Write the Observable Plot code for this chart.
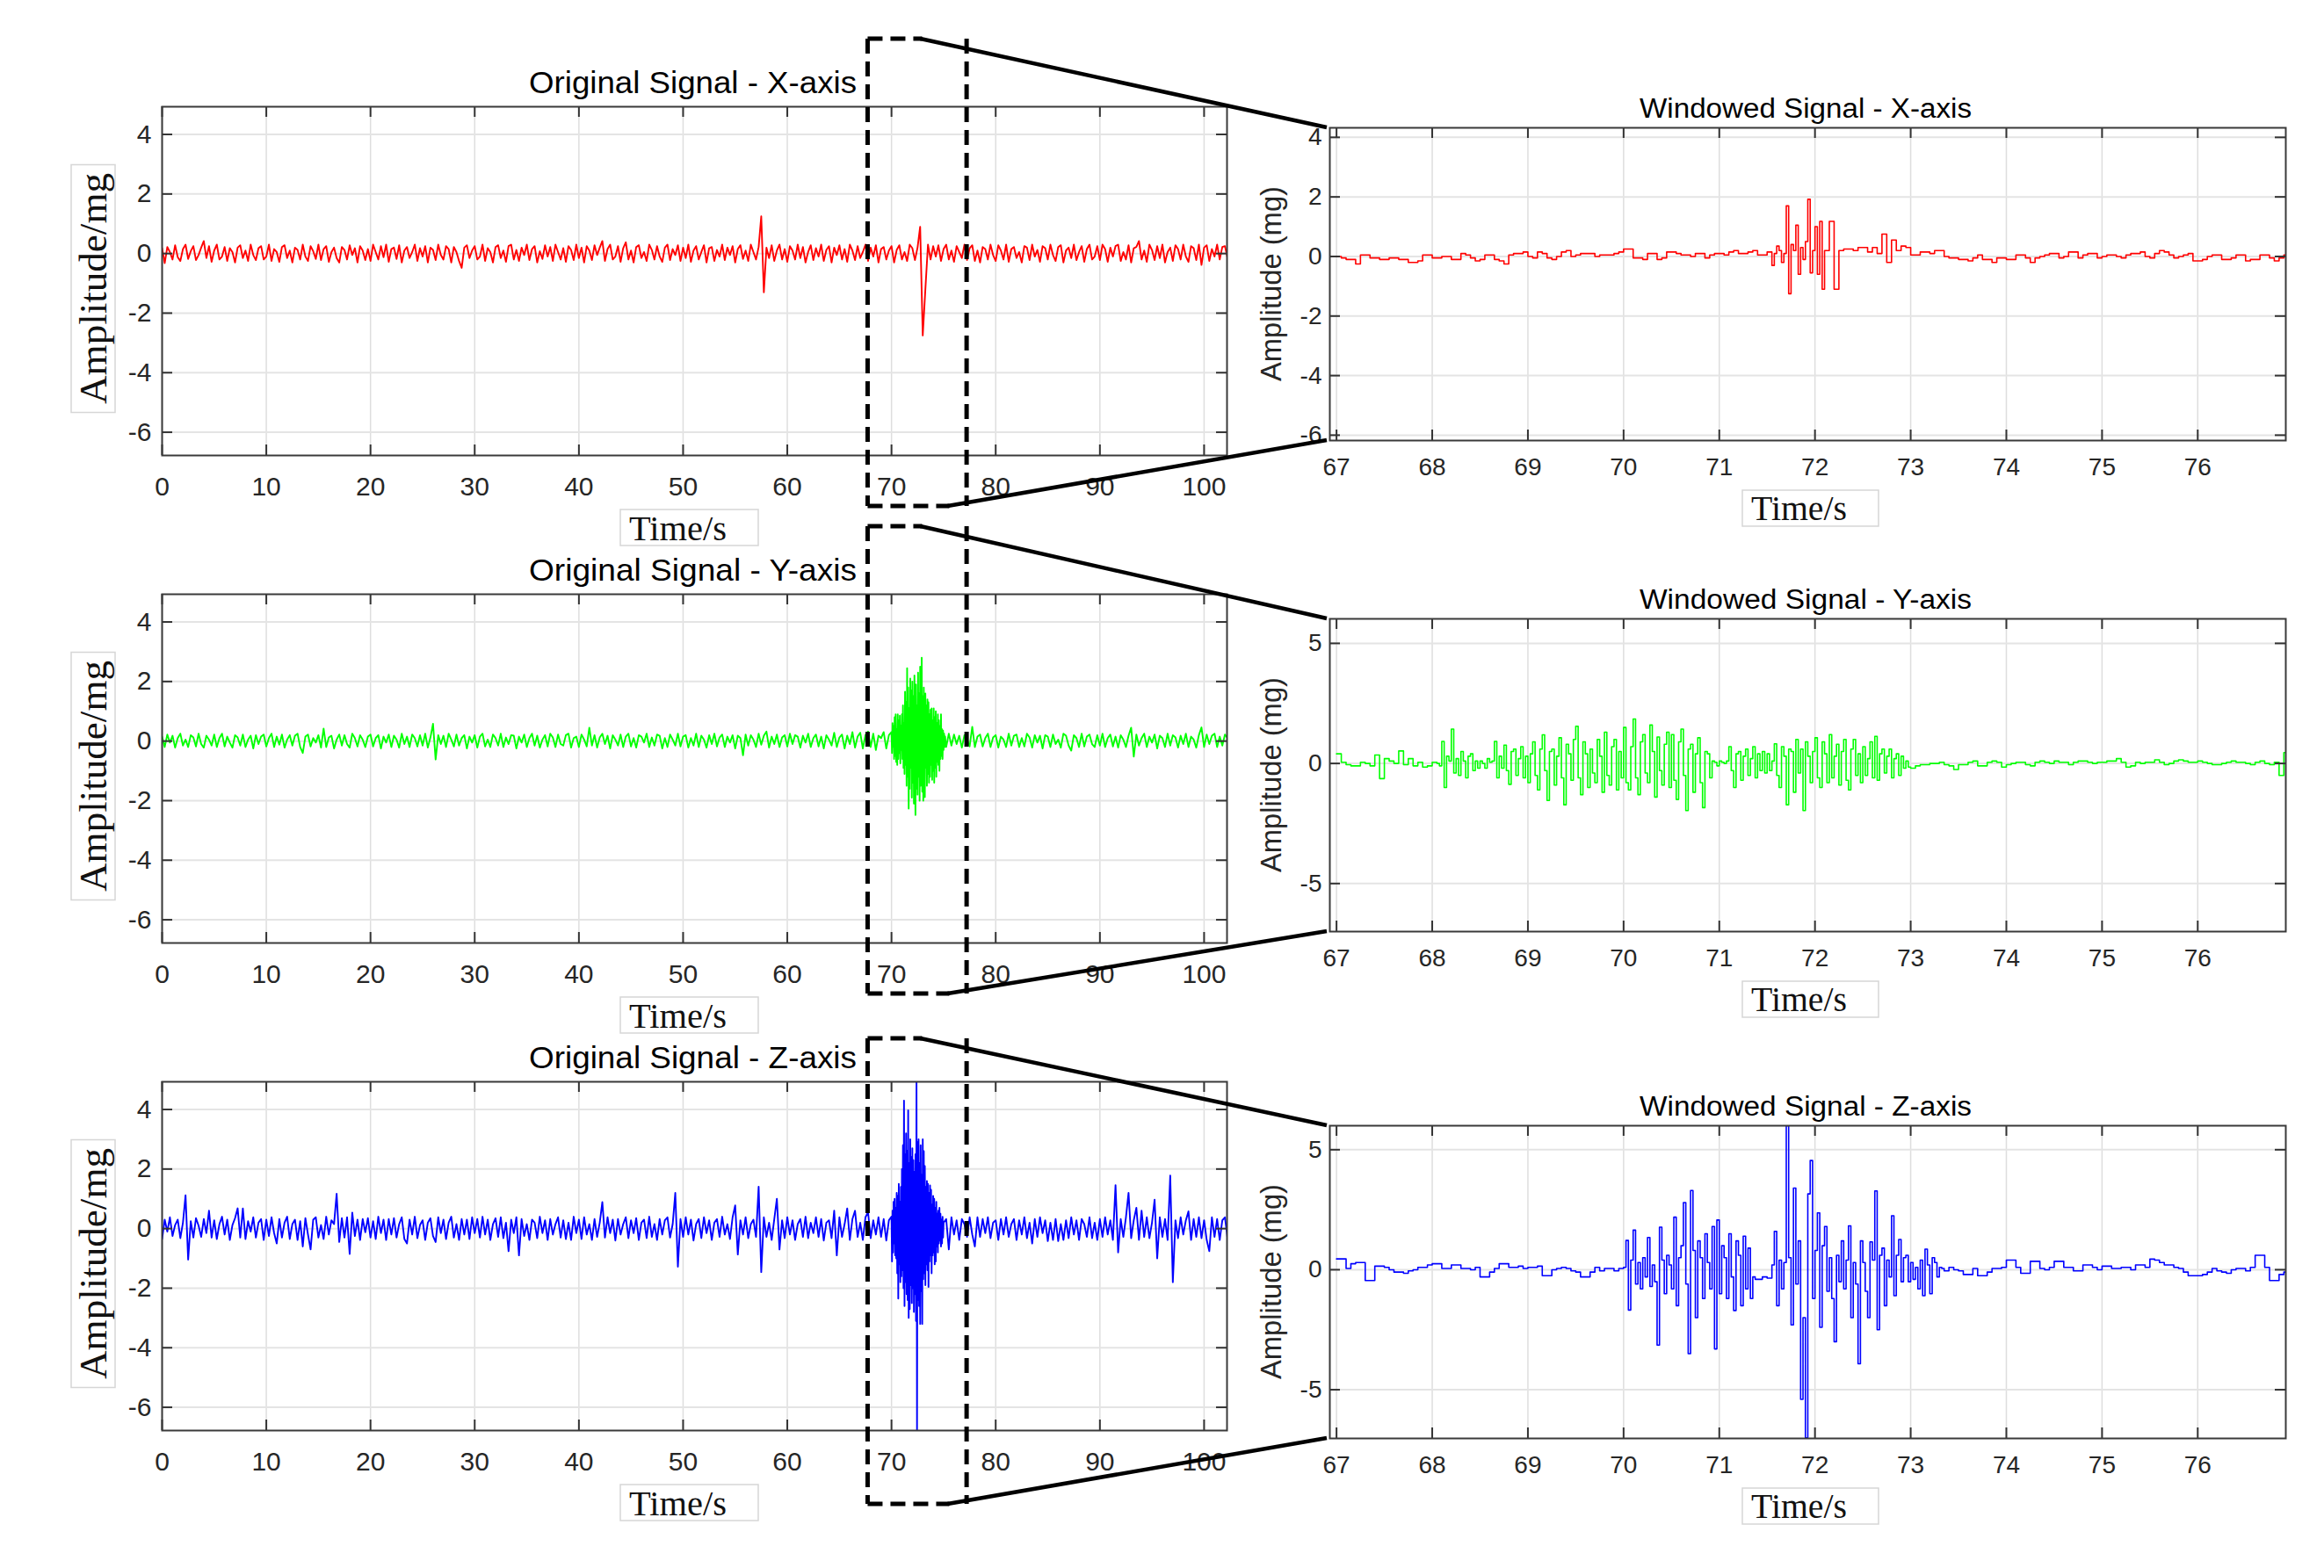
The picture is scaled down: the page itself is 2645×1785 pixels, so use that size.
<!DOCTYPE html>
<html><head><meta charset="utf-8">
<script src="https://cdn.jsdelivr.net/npm/d3@7"></script>
<script src="https://cdn.jsdelivr.net/npm/@observablehq/plot@0.6"></script>
<style>
html,body{margin:0;padding:0;background:#fff;}
#fig{position:relative;width:2645px;height:1785px;background:#fff;overflow:hidden;}
#fig .panel{position:absolute;}
</style></head><body><div id="fig"></div>
<script>
// ---------------- DATA ----------------
// Original signals: amplitude (mg) sampled every 0.25 s from 0 s
const originalStep = 0.25;
const xOriginal = [
0.18,-0.32,0.22,0.05,-0.2,0.28,-0.12,-0.25,0.15,0.3,-0.18,0.08,0.25,-0.22,-0.05,0.2,0.42,-0.15,0.25,-0.28,0.1,0.3,-0.2,-0.1,0.22,-0.25,0.18,0.05,-0.3,0.2,0.28,-0.15,0.1,-0.25,0.3,-0.05,-0.22,0.18,0.25,-0.2,
-0.1,0.3,-0.25,0.15,0.05,-0.28,0.22,0.28,-0.15,0.1,-0.3,0.2,0.12,-0.2,0.3,-0.1,-0.25,0.25,0.08,-0.18,0.3,-0.22,0.15,0.25,-0.28,0.05,0.2,-0.15,-0.3,0.22,0.12,-0.2,0.28,-0.05,0.18,-0.3,0.25,0.1,-0.22,0.15,
-0.25,0.3,0.05,-0.2,0.25,-0.12,0.3,-0.28,0.15,0.2,-0.18,0.28,-0.3,0.1,0.22,-0.15,0.05,0.3,-0.25,0.18,-0.1,0.25,-0.3,0.2,0.12,-0.22,0.3,-0.05,-0.2,0.25,0.15,-0.3,0.22,0.05,-0.25,-0.48,0.2,0.28,-0.15,0.1,
0.25,-0.2,-0.1,0.3,-0.25,0.18,0.05,-0.3,0.22,0.28,-0.15,0.1,-0.28,0.25,0.3,-0.2,0.12,-0.25,0.2,-0.05,0.3,-0.22,0.15,0.25,-0.3,0.08,-0.18,0.28,-0.1,0.22,-0.25,0.3,0.05,-0.2,0.18,-0.28,0.25,0.12,-0.22,0.3,
-0.15,0.2,-0.3,0.25,0.1,-0.22,0.28,-0.05,0.2,0.42,-0.25,0.15,0.3,-0.2,-0.1,0.25,-0.28,0.18,0.38,-0.2,0.1,-0.3,0.22,0.28,-0.15,0.05,-0.25,0.3,0.12,-0.2,0.25,-0.1,-0.28,0.2,0.3,-0.22,0.15,-0.05,0.28,-0.25,
0.2,-0.15,0.3,-0.28,0.1,0.25,-0.2,0.05,0.28,-0.3,0.18,0.22,-0.25,0.12,-0.1,0.3,-0.22,0.2,-0.05,0.25,-0.3,0.15,0.28,-0.18,0.1,-0.25,0.3,0.05,-0.2,0.22,1.25,-1.3,0.2,-0.15,0.28,-0.25,0.1,0.3,-0.2,0.15,
-0.28,0.25,0.1,-0.2,0.3,-0.15,0.22,-0.3,0.05,0.28,-0.22,0.18,-0.1,0.3,-0.25,0.12,0.25,-0.3,0.2,-0.05,0.28,-0.2,0.15,-0.28,0.3,0.1,-0.22,0.25,-0.15,0.05,0.3,-0.25,0.2,-0.1,0.28,-0.3,0.15,0.22,-0.2,0.1,
0.25,-0.3,0.12,0.28,-0.2,0.05,-0.25,0.3,0.18,-0.22,0.2,0.9,-2.75,-1.2,0.3,-0.2,0.25,-0.1,0.28,-0.25,0.15,0.3,-0.2,0.1,-0.28,0.25,0.05,-0.15,0.3,-0.22,0.18,0.28,-0.25,0.1,-0.3,0.22,0.15,-0.2,0.3,-0.05,
-0.25,0.28,0.1,-0.2,0.3,-0.28,0.15,0.22,-0.15,0.05,-0.3,0.25,0.2,-0.22,0.3,-0.1,0.12,-0.28,0.25,0.18,-0.2,0.3,-0.05,-0.25,0.22,0.28,-0.3,0.1,0.2,-0.15,0.3,-0.22,0.05,0.25,-0.28,0.15,0.3,-0.2,-0.1,0.25,
-0.22,0.3,0.15,-0.28,0.2,-0.1,0.25,0.3,-0.25,0.05,-0.2,0.28,-0.3,0.18,0.22,0.42,-0.2,0.1,-0.28,0.3,0.12,-0.22,0.25,-0.15,0.3,-0.3,0.05,0.2,-0.25,0.28,0.15,-0.2,0.3,-0.1,-0.28,0.25,0.18,-0.22,0.3,-0.38,
0.2,0.28,-0.25,0.15,-0.1,0.3,-0.2,0.22,0.25,-0.15];
const yOriginal = [
0.15,-0.2,0.22,-0.05,0.18,-0.22,0.1,0.25,-0.15,0.05,-0.2,0.2,0.12,-0.18,0.25,-0.1,-0.22,0.18,0.05,-0.15,0.22,-0.2,0.1,0.25,-0.18,0.15,-0.05,-0.22,0.2,0.12,-0.15,0.22,-0.2,0.05,0.18,-0.25,0.2,-0.1,0.15,0.22,
-0.18,0.1,0.25,-0.2,0.15,-0.12,0.22,-0.22,0.05,0.2,-0.15,0.18,0.25,-0.2,-0.4,0.15,0.22,-0.18,0.1,-0.05,0.2,-0.22,0.42,-0.2,0.12,0.18,-0.25,0.05,0.22,-0.15,0.2,-0.1,-0.22,0.25,0.1,-0.18,0.2,0.05,-0.2,0.15,
0.22,-0.18,0.1,0.2,-0.25,0.15,-0.05,0.22,-0.2,0.18,0.05,-0.22,0.25,-0.1,0.15,-0.2,0.22,0.1,-0.18,0.2,-0.15,0.25,-0.22,0.12,0.58,-0.62,0.2,-0.1,0.18,-0.2,0.25,0.05,-0.18,0.22,-0.15,0.1,0.2,-0.25,0.15,-0.05,
0.2,-0.22,0.15,0.25,-0.18,0.05,-0.2,0.22,0.1,-0.15,0.25,-0.2,0.12,-0.1,0.2,0.18,-0.25,0.15,-0.05,0.22,-0.2,0.1,0.25,-0.15,0.18,-0.22,0.05,0.2,-0.18,0.25,0.12,-0.2,0.22,-0.1,-0.15,0.2,0.25,-0.22,0.1,0.15,
-0.2,0.22,0.05,-0.18,0.45,-0.15,0.2,-0.22,0.12,0.25,-0.1,0.18,-0.25,0.2,0.05,-0.15,0.22,-0.2,0.15,0.25,-0.18,0.1,-0.22,0.2,0.15,-0.05,0.25,-0.2,0.12,-0.15,0.22,0.18,-0.25,0.1,-0.2,0.22,0.05,-0.15,0.25,-0.18,
0.15,0.2,-0.22,0.1,-0.15,0.25,-0.2,0.18,0.05,-0.22,0.2,-0.1,0.25,-0.18,0.12,0.22,-0.2,0.15,-0.05,0.2,-0.25,0.18,0.1,-0.48,0.22,-0.15,0.2,0.05,-0.2,0.25,-0.12,0.18,0.32,-0.22,0.15,-0.1,0.22,-0.2,0.12,0.2,
-0.18,0.25,-0.1,0.2,0.15,-0.22,0.18,-0.05,0.25,-0.2,0.1,0.22,-0.18,0.15,-0.25,0.2,0.05,-0.15,0.28,-0.2,0.12,0.22,-0.25,0.18,-0.1,0.3,-0.22,0.15,0.28,-0.25,0.2,0.32,-0.2,0.25,-0.3,0.18,0.1,0.3,-0.25,0.2,
0.1,-0.1,0.15,-0.12,0.2,-0.15,0.1,-0.1,0.2,-0.2,0.15,-0.15,0.2,-0.1,0.15,-0.12,0.1,-0.1,0.15,-0.12,0.1,-0.2,0.25,-0.15,0.22,-0.1,0.18,-0.22,0.2,0.05,-0.18,0.48,-0.2,0.15,0.22,-0.18,0.1,0.25,-0.2,0.12,
0.2,-0.22,0.15,0.05,-0.2,0.25,-0.15,0.18,0.22,-0.2,0.1,-0.18,0.25,0.12,-0.22,0.2,-0.05,0.18,-0.25,0.2,0.15,-0.2,0.22,-0.1,0.05,-0.22,0.25,0.18,-0.15,-0.32,0.2,0.1,-0.2,0.25,-0.18,0.15,0.22,-0.1,-0.2,0.2,
-0.15,0.25,-0.2,0.1,0.22,-0.18,0.15,-0.22,0.2,0.05,-0.2,0.18,0.45,-0.52,0.22,-0.15,0.1,0.25,-0.2,0.15,-0.05,0.22,-0.25,0.18,0.1,-0.2,0.25,-0.15,0.2,0.12,-0.22,0.18,-0.1,0.25,-0.2,0.15,0.05,-0.22,0.2,0.46,
-0.2,0.22,-0.1,0.18,0.25,-0.2,0.15,-0.15,0.22,0.1];
// Y-axis event (70.00 s .. 75.20 s, every 0.05 s)
const yBurstStart = 70.0, burstStep = 0.05;
const yOriginalBurst = [
0.3,-0.4,0.6,-0.2,0.5,-0.6,0.8,-0.5,0.9,-0.7,
0.4,-0.8,0.9,-0.6,0.7,-0.4,0.85,-0.75,0.5,-0.3,
0.9,-0.6,1.2,-0.9,0.6,-1.1,1.66,-0.8,1.3,-1.5,
2.45,-1.2,1.8,-2.27,1.1,-1.6,2.1,-0.9,1.7,-1.9,
2.0,-1.4,1.5,-2.1,2.2,-1.0,-2.48,1.9,-1.6,1.2,
-1.8,2.3,-1.2,1.6,-2.0,2.5,-1.5,1.1,2.8,-1.7,
1.5,-2.0,1.8,-1.3,-1.88,1.6,-0.9,1.2,-1.5,1.4,
-1.1,1.3,-1.4,0.9,-1.2,1.05,-0.8,1.1,-1.3,0.7,
-1.0,1.1,-1.4,0.8,-0.9,1.0,-1.2,0.6,-0.7,0.9,
-0.8,0.7,-1.0,0.5,-0.6,0.9,-0.5,0.4,-0.6,0.35,
-0.3,0.25,-0.2,0.15,-0.1];
const zOriginal = [
-0.35,0.3,-0.1,0.38,-0.25,0.12,0.3,-0.32,0.2,1.12,-1.04,0.25,-0.3,0.35,0.1,-0.28,0.32,-0.15,0.6,-0.3,0.28,-0.35,0.15,0.4,-0.2,0.3,-0.38,0.12,0.35,0.68,-0.3,0.68,-0.35,0.25,-0.1,0.38,-0.3,0.2,0.32,-0.38,
0.3,-0.25,0.38,-0.15,-0.5,0.32,-0.3,0.2,0.4,-0.35,0.15,0.3,-0.38,0.25,-0.6,0.35,-0.2,-0.7,0.3,0.38,-0.3,0.12,-0.35,0.4,-0.2,0.28,0.15,1.17,-0.45,0.35,-0.3,0.38,-0.85,0.54,-0.25,0.3,-0.38,0.32,-0.12,0.35,
-0.3,0.25,-0.35,0.4,-0.15,0.3,-0.38,0.32,-0.2,0.35,-0.3,0.15,0.38,-0.35,-0.5,0.3,-0.2,0.4,-0.32,0.12,0.28,-0.38,0.2,0.35,-0.25,-0.45,0.38,-0.15,0.3,-0.35,0.2,0.4,-0.3,0.15,-0.38,0.32,-0.2,0.3,-0.35,0.38,
-0.15,0.32,-0.3,0.4,-0.2,0.3,-0.38,0.15,0.35,-0.28,0.38,-0.32,0.2,-0.76,0.3,-0.15,0.38,-0.9,0.32,-0.25,0.15,-0.38,0.3,0.2,-0.32,0.4,-0.15,0.28,-0.38,0.32,-0.2,0.15,0.38,-0.3,0.28,-0.35,0.2,-0.38,0.4,-0.15,
0.3,-0.35,0.38,-0.2,0.15,-0.38,0.32,-0.28,0.2,0.89,-0.3,0.38,-0.15,0.3,-0.4,0.32,-0.2,0.15,0.38,-0.32,0.28,-0.15,0.35,-0.38,0.2,0.3,-0.32,0.4,-0.28,0.15,-0.38,0.32,-0.2,0.28,0.38,-0.3,0.15,1.2,-1.28,0.32,
-0.28,0.38,-0.2,0.3,-0.4,0.15,0.32,-0.32,0.38,-0.15,0.28,-0.38,0.2,0.32,-0.28,0.4,-0.2,0.15,-0.35,0.38,0.78,-0.87,0.28,-0.2,0.38,-0.32,0.15,0.3,-0.28,1.41,-1.46,0.38,-0.28,0.2,-0.38,0.32,1.0,-0.7,0.28,-0.32,
0.38,-0.2,0.28,-0.38,0.15,0.32,-0.28,0.4,-0.32,0.2,-0.15,0.38,-0.28,0.32,-0.4,0.2,0.28,-0.32,0.6,-0.9,0.38,-0.28,0.15,0.68,-0.38,0.32,0.6,-0.28,0.2,-0.38,0.38,0.55,-0.32,0.28,-0.2,0.38,-0.28,0.32,-0.4,0.28,
-1.2,0.3,-0.3,0.25,-0.2,0.3,-0.25,0.2,-0.3,0.25,-0.2,0.3,-0.25,0.2,-0.3,0.25,-0.2,0.3,-0.25,0.2,-0.3,0.32,-0.7,0.38,-0.2,0.28,-0.38,0.32,0.15,-0.28,0.38,-0.2,-0.6,0.38,-0.28,0.32,-0.15,0.38,-0.32,0.2,
0.28,-0.38,0.32,-0.2,0.38,-0.28,0.15,0.32,-0.38,0.28,-0.2,0.38,-0.32,0.2,-0.5,0.32,-0.28,0.38,-0.15,0.28,-0.42,0.2,-0.38,0.32,-0.42,0.15,-0.38,0.28,-0.32,0.38,-0.2,0.28,-0.38,0.32,0.15,-0.28,0.38,-0.32,0.2,-0.38,
0.32,-0.28,0.38,-0.2,0.28,-0.38,1.46,-0.8,0.32,-0.28,0.38,1.2,-0.32,0.28,0.7,-0.38,0.6,-0.28,0.38,-0.32,0.2,0.97,-1.0,0.38,-0.28,0.32,-0.38,1.78,-1.8,0.28,-0.32,0.38,-0.2,0.28,0.58,-0.38,0.32,-0.28,0.38,-0.32,
0.28,-0.38,-0.76,0.38,-0.28,0.32,-0.38,0.28,0.38,-0.32];
// Z-axis event (70.00 s .. 75.00 s, every 0.05 s)
const zBurstStart = 70.0;
const zOriginalBurst = [
0.4,-1.1,0.6,-0.8,0.9,-0.5,1.0,-0.9,0.7,-1.0,
1.2,-1.5,1.1,-2.35,1.5,-1.2,0.9,-1.8,1.4,-1.6,
2.0,-1.4,2.8,-2.0,4.3,-2.6,2.5,-1.8,3.2,-2.2,
2.6,-2.4,3.97,-3.0,2.2,-2.7,3.0,-1.9,2.4,-2.5,
2.7,-2.0,2.3,-2.8,1.9,-2.2,2.5,-3.1,4.94,-6.77,
2.9,-2.4,3.0,-2.6,2.2,-3.2,2.8,-2.1,1.8,-3.2,
3.0,-1.7,2.6,-1.5,2.1,-1.9,1.4,-1.2,1.6,-1.4,
1.5,-1.96,1.2,-1.1,1.45,-0.9,1.3,-1.5,0.8,-0.9,
1.1,-0.8,1.0,-1.2,0.7,-1.1,0.9,-0.6,0.5,-0.8,
0.6,-0.5,0.7,-0.4,0.5,-0.6,0.3,-0.5,0.4,-0.3,
0.2];
// Windowed signals: sample-and-hold values every 0.05 s from 67.00 s
const windowStart = 67.0, windowStep = 0.05;
const xWindowed = [
0,-0.05,-0.1,-0.1,-0.25,0.05,0.05,-0.05,-0.05,-0.1,
-0.1,-0.05,-0.05,-0.1,-0.1,-0.2,-0.2,-0.15,0.05,0.05,
-0.05,-0.05,0,0,-0.1,-0.1,0.1,0.05,-0.05,-0.15,
-0.1,0.05,0.05,-0.1,-0.15,-0.25,0.05,0.1,0.1,0.15,
0,-0.05,0.15,0.1,-0.05,-0.1,0,0.15,0.2,0,
0.05,0.1,0.1,0.1,0,0.05,0.05,0.05,0.1,0.15,
0.25,0.25,-0.05,-0.05,-0.1,0.1,0.1,-0.1,-0.05,0.15,
0.15,0.1,0.05,0.05,0,0.1,0.1,-0.05,0.05,0.1,
0.1,0.05,0.15,0.2,0.1,0.1,0.15,0.2,0.05,0.05,
0.15,-0.3,0.35,-0.2,1.7,-1.25,0.4,1.05,-0.6,1.92,
-0.55,1.0,-0.6,1.18,-1.1,0.2,0.25,0.25,0.2,0.3,
0.3,0.15,0.3,0.1,0.75,-0.2,0.55,0.2,0.35,0.3,
0.05,0.05,0.15,0.15,0.1,0.2,0.2,0,-0.05,-0.05,
-0.1,-0.1,-0.15,-0.05,0.05,-0.1,-0.1,-0.2,-0.05,-0.05,
-0.1,-0.1,0.05,0.05,-0.05,-0.2,-0.05,0,0.05,0.1,
0.1,-0.05,0,0.15,0.15,-0.05,0.05,0.1,0.1,-0.05,
0,0.05,0.05,0,-0.05,0.05,0.1,0.1,0.15,0,
-0.05,0.1,0.2,0.15,0.05,-0.05,0,0.05,0.1,-0.15,
-0.15,-0.1,0,0.05,0.05,-0.1,-0.1,-0.05,0.05,0.05,
-0.15,-0.1,-0.1,0.05,0.05,-0.05,-0.15,-0.05,0.05,-0.1];
const yWindowed = [
0.4,0.05,-0.05,-0.1,-0.1,0.05,0,-0.1,0.35,-0.63,
0.2,0.1,0,0.52,-0.05,0.2,-0.1,0.05,-0.15,-0.1,
0.05,0,0.92,-1.0,1.43,-0.4,0.5,-0.6,0.4,-0.3,
0.3,-0.2,0.1,0.92,-0.6,0.76,-0.87,0.6,-0.5,0.7,
-0.8,0.9,-1.1,1.19,-1.54,0.6,-0.9,1.07,-1.72,0.8,
1.55,-1.3,0.9,-1.0,0.6,-0.8,1.0,-1.2,1.3,-0.9,
1.5,-1.1,1.85,-1.3,1.2,-0.8,1.6,-1.4,1.1,-0.9,
1.2,-1.5,1.43,-1.96,0.8,-1.2,1.07,-1.84,0.4,-0.6,
0.1,0.05,0.7,-1.0,0.5,-0.7,0.6,-0.5,0.7,-0.6,
0.4,-0.3,0.82,-1.0,0.7,-1.72,0.6,-1.2,1.0,-1.96,
1.07,-1.0,0.9,-0.8,1.2,-0.6,0.8,-0.9,1.0,-1.1,
0.7,-0.5,0.9,1.13,-0.7,0.6,-0.4,0.6,-0.6,0.4,
-0.2,-0.1,-0.05,-0.05,0,0,0.05,-0.05,-0.1,-0.25,
-0.05,-0.05,0.05,0.1,-0.1,-0.1,0.05,0.1,0.05,-0.15,
-0.05,0,0.05,0.05,-0.05,-0.1,0.05,0.1,0.05,0,
0.1,0.05,0.05,-0.05,0.05,0.1,0.1,0.05,0,0.05,
0.05,0.1,0.1,0.2,0.05,-0.15,-0.1,0.05,0,0.05,
0.05,0.15,0.05,-0.05,0,0.1,0.15,0.1,0.05,0.05,
0.1,0.05,0,-0.05,-0.05,0,0.05,0.1,0.05,0.05,
0,-0.05,0.05,0.1,0,-0.05,0.05,-0.5,0.45,0.05];
const zWindowed = [
0.45,0.45,0.05,0.25,0.3,0.3,-0.45,-0.45,0.15,0.15,
0.1,0,-0.1,-0.1,-0.15,-0.05,0,0.1,0.1,0.2,
0.25,0.25,0.05,0.05,0.2,0.2,0.05,0.05,0,0.1,
-0.3,-0.3,-0.1,0.05,0.25,0.25,0.1,0.1,0.15,0.05,
0.1,0.1,0.15,-0.25,-0.25,0,0.05,0.1,0.05,-0.05,
-0.1,-0.3,-0.3,-0.1,0.1,-0.05,0.05,0.05,-0.05,0.05,
1.22,-1.68,1.65,-0.5,0.3,1.34,-0.8,-3.14,1.77,0.2,
2.19,-1.5,2.8,-3.5,3.3,-2.0,0.8,-1.2,1.5,-3.3,
2.07,-1.0,0.5,1.5,-1.7,1.2,-1.5,1.4,-1.2,0.3,
-0.2,0.4,1.6,-1.5,6.0,-2.3,3.16,-5.4,-7.0,4.55,
-1.2,2.37,-2.4,1.8,-3.0,0.6,1.83,-2.0,-3.92,1.2,
-2.0,1.16,3.28,-2.5,0.9,-1.5,2.25,-1.08,1.26,0.5,
-0.8,0.3,-1.08,0.86,-0.5,0.3,-1.0,0.4,0.1,0,
-0.05,-0.2,-0.2,0.05,-0.25,-0.25,-0.1,0.05,0.05,0.1,
0.4,0.4,0.1,-0.15,-0.15,0.35,0.35,0.05,0,0.1,
0.35,0.35,0.1,0.1,-0.05,-0.05,0.2,0.2,0.1,0,
0.15,0.15,0.05,0.05,0.1,0.1,0,0.2,0.2,0.1,
0.44,0.4,0.3,0.2,0.2,0.1,0.05,-0.1,-0.25,-0.25,
-0.25,-0.2,-0.1,0.05,-0.05,-0.1,-0.15,0,0.05,0.05,
-0.05,0.1,0.6,0.6,0.1,-0.45,-0.45,-0.2,-0.1,-0.1];
// Finer readings of the windowed events, every 0.025 s
const fineStep = 0.025;
const xWindowedEventStart = 71.5;
const xWindowedEvent = [
0.15,0.15,-0.3,0.1,0.35,0.2,-0.2,0.1,1.7,-1.25,
0.4,0.2,1.05,-0.6,0.3,-0.1,0.5,1.92,-0.55,0.2,
1.0,-0.6,1.18,-1.1,0.2];
const yWindowedEventStart = 68.0;
const yWindowedEvent = [
0.05,0.05,0,-0.1,0.92,-1.0,0.3,0.1,1.43,-0.4,0.2,-0.5,0.5,0.1,-0.6,0.3,0.4,-0.3,0.1,-0.2,
0.1,0,-0.2,0.2,0.05,0.1,0.92,-0.6,0.3,-0.2,0.76,-0.3,-0.87,0.5,0.6,-0.5,0.2,0.7,-0.6,0.3,
-0.8,0.4,0.9,-0.5,-1.1,0.6,1.19,-0.3,-1.54,0.5,0.6,-0.9,0.3,1.07,-0.6,-1.72,0.8,0.4,-0.7,1.0,
1.55,-0.6,-1.3,0.9,0.4,-1.0,0.6,-0.4,-0.8,1.0,0.3,-1.2,1.3,-0.5,-0.9,0.7,1.0,-1.1,0.5,-0.6,
1.5,-0.8,-1.1,0.7,1.85,-0.6,-1.3,0.9,1.2,-0.4,-0.8,1.6,0.5,-1.4,1.1,-0.3,-0.9,0.8,1.3,-1.0,
1.2,-0.7,-1.5,0.9,1.43,-0.5,-1.96,0.6,0.8,-1.2,0.4,1.07,-0.8,-1.84,0.5,0.4,-0.6,0.1,0.05,-0.1,
0.1,0.05,0,0.1,0.7,-0.3,-1.0,0.4,0.5,-0.7,0.3,0.6,-0.5,0.2,0.7,-0.6,0.4,-0.3,0.5,-0.4,
0.4,-0.3,0.1,0.82,-0.5,-1.0,0.7,0.3,-1.72,0.6,0.5,-1.2,1.0,-0.4,0.6,-1.96,0.9,0.3,-0.8,0.5,
1.07,-0.6,-1.0,0.9,0.4,-0.8,1.2,-0.6,0.3,0.8,-0.9,0.5,1.0,-0.7,-1.1,0.6,1.0,-0.5,0.4,-0.8,
0.7,-0.5,0.2,0.9,-0.6,1.13,-0.7,0.4,0.6,-0.4,0.3,0.6,-0.6,0.2,0.4,-0.5,0.3,-0.2,0.1,-0.15,
-0.2];
const zWindowedEventStart = 70.0;
const zWindowedEvent = [
0.1,1.22,-1.68,0.4,1.65,-0.6,0.3,-0.8,0.5,-0.3,1.34,-0.7,0.2,-0.5,-3.14,1.77,0.4,-1.0,0.6,0.2,
-0.8,2.19,-1.5,0.5,1.0,2.8,-0.6,-3.5,3.3,0.8,-2.0,1.2,0.5,-1.2,1.5,0.3,-0.8,1.8,-3.3,2.07,
-1.0,1.0,0.5,-1.2,1.5,-0.3,-1.7,1.2,0.6,-1.5,1.4,-0.8,0.9,-1.2,-0.3,-0.4,-0.4,-0.4,-0.3,-0.3,
-0.35,-0.35,0.2,1.6,-1.5,0.4,-0.8,0.3,6.0,0.5,-2.3,3.4,-0.6,1.2,-5.4,-2.0,-7.0,3.16,4.55,-1.2,
0.8,2.37,-2.4,1.0,1.8,-0.9,0.5,-1.2,-3.0,0.6,-0.5,1.2,-0.8,0.4,1.83,-2.0,0.3,-0.6,-3.92,1.2,
0.3,-0.9,-2.0,1.16,0.4,3.28,-2.5,0.6,0.9,-1.5,0.4,-0.3,2.25,-1.08,0.6,1.26,-0.5,0.5,0.6,-0.5,
0.3,-0.4,0.1,-0.8,0.4,-1.08,0.86,0.2,-1.0,0.5,0.3,-0.3,0.1,0.05,-0.05];

// Axes / labels
const axisNames = ["X-axis","Y-axis","Z-axis"];
const seriesColors = ["#ff0000","#00ff00","#0000ff"];
const originalXDomain = [0, 102.2];
const originalYDomain = [-6.78, 4.93];
const originalXTicks = [0,10,20,30,40,50,60,70,80,90,100];
const originalYTicks = [-6,-4,-2,0,2,4];
const windowXDomain = [66.93, 76.92];
const windowXTicks = [67,68,69,70,71,72,73,74,75,76];
const windowYDomains = [[-6.18, 4.32],[-7.0, 6.02],[-7.03, 6.0]];
const windowYTicks = [[-6,-4,-2,0,2,4],[-5,0,5],[-5,0,5]];
const zoomedRange = [67.75, 77.25]; // section of the original signal shown on the right

// ---------------- BUILD SERIES ----------------
const seq = (vals, t0, dt) => vals.map((v, i) => ({t: t0 + i * dt, v}));
function withEvent(base, t0, dt, event, e0, edt) {
  const b = seq(event, e0, edt);
  const lo = b[0].t - 1e-9, hi = b[b.length - 1].t + 1e-9;
  return seq(base, t0, dt).filter(d => d.t < lo || d.t > hi).concat(b).sort((a, c) => a.t - c.t);
}
const originalSeries = [
  seq(xOriginal, 0, originalStep),
  withEvent(yOriginal, 0, originalStep, yOriginalBurst, yBurstStart, burstStep),
  withEvent(zOriginal, 0, originalStep, zOriginalBurst, zBurstStart, burstStep)
];
const windowSeries = [
  withEvent(xWindowed, windowStart, windowStep, xWindowedEvent, xWindowedEventStart, fineStep),
  withEvent(yWindowed, windowStart, windowStep, yWindowedEvent, yWindowedEventStart, fineStep),
  withEvent(zWindowed, windowStart, windowStep, zWindowedEvent, zWindowedEventStart, fineStep)
];

// ---------------- LAYOUT ----------------
const fig = document.getElementById("fig");
const SANS = "'Liberation Sans', Arial, Helvetica, sans-serif";
const SERIF = "'Liberation Serif', 'Times New Roman', serif";
const L = {left: 184, w: 1212, h: 397, tops: [121, 676, 1231], ml: 80, mr: 30, mt: 20, mb: 80};
const R = {left: 1513, w: 1088, h: 356, tops: [145, 704, 1281], ml: 70, mr: 30, mt: 20, mb: 70};

function panel(P, top, data, color, xDomain, xTicks, yDomain, yTicks, curve, fs, padX, padY, lw) {
  const tick = 12;
  const chart = Plot.plot({
    width: P.w + P.ml + P.mr, height: P.h + P.mt + P.mb,
    marginLeft: P.ml, marginRight: P.mr, marginTop: P.mt, marginBottom: P.mb,
    style: {background: "transparent", overflow: "visible", maxWidth: "none", fontFamily: SANS, fontSize: fs + "px", color: "#262626"},
    x: {domain: xDomain}, y: {domain: yDomain},
    marks: [
      Plot.gridX(xTicks, {stroke: "#dedede", strokeOpacity: 1, strokeWidth: 1.5}),
      Plot.gridY(yTicks, {stroke: "#e4e4e4", strokeOpacity: 1, strokeWidth: 2}),
      Plot.line(data, {x: "t", y: "v", stroke: color, strokeWidth: lw, curve, clip: true}),
      Plot.tickX(xTicks, {x: d => d, insetTop: P.h - tick, stroke: "#333", strokeWidth: 2}),
      Plot.tickX(xTicks, {x: d => d, insetBottom: P.h - tick, stroke: "#333", strokeWidth: 2}),
      Plot.tickY(yTicks, {y: d => d, insetRight: P.w - tick, stroke: "#333", strokeWidth: 2}),
      Plot.tickY(yTicks, {y: d => d, insetLeft: P.w - tick, stroke: "#333", strokeWidth: 2}),
      Plot.frame({stroke: "#3a3a3a", strokeWidth: 2}),
      Plot.axisX(xTicks, {tickSize: 0, tickPadding: padX, fontSize: fs, tickFormat: d => String(d), label: null}),
      Plot.axisY(yTicks, {tickSize: 0, tickPadding: padY, fontSize: fs, tickFormat: d => String(d), label: null})
    ]
  });
  const wrap = document.createElement("div");
  wrap.className = "panel";
  wrap.style.left = (P.left - P.ml) + "px";
  wrap.style.top = (top - P.mt) + "px";
  wrap.appendChild(chart);
  fig.appendChild(wrap);
  return chart;
}

const leftCharts = [], rightCharts = [];
for (let r = 0; r < 3; r++) {
  leftCharts.push(panel(L, L.tops[r], originalSeries[r], seriesColors[r], originalXDomain, originalXTicks, originalYDomain, originalYTicks, "linear", 30, 24, 12, 1.9));
  rightCharts.push(panel(R, R.tops[r], windowSeries[r], seriesColors[r], windowXDomain, windowXTicks, windowYDomains[r], windowYTicks[r], "step-after", 28, 20, 9, 1.6));
}

// ---------------- OVERLAY (titles, labels, zoom boxes) ----------------
const svg = d3.select(fig).append("svg")
  .attr("width", 2645).attr("height", 1785)
  .style("position", "absolute").style("left", 0).style("top", 0);

const boxTop = [44, 599, 1182], boxBottom = [576, 1131, 1712];

for (let r = 0; r < 3; r++) {
  const lt = L.tops[r], lb = lt + L.h, rt = R.tops[r], rb = rt + R.h;
  // titles
  svg.append("text").attr("x", 602).attr("y", lt - 15).attr("font-family", SANS).attr("font-size", 35)
    .attr("textLength", 373).attr("lengthAdjust", "spacingAndGlyphs").attr("fill", "#000")
    .text(`Original Signal - ${axisNames[r]}`);
  svg.append("text").attr("x", 1866).attr("y", rt - 11).attr("font-family", SANS).attr("font-size", 31)
    .attr("textLength", 378).attr("lengthAdjust", "spacingAndGlyphs").attr("fill", "#000")
    .text(`Windowed Signal - ${axisNames[r]}`);
  // left y label with box
  const cyL = lt + L.h / 2 + 9;
  svg.append("rect").attr("x", L.left - 103).attr("y", cyL - 141).attr("width", 50).attr("height", 282)
    .attr("fill", "#fff").attr("stroke", "#d6d6d6").attr("stroke-width", 1.5);
  svg.append("text").attr("transform", `translate(${L.left - 63},${cyL}) rotate(-90)`)
    .attr("text-anchor", "middle").attr("font-family", SERIF).attr("font-size", 44)
    .attr("textLength", 263).attr("lengthAdjust", "spacingAndGlyphs").attr("fill", "#111").text("Amplitude/mg");
  // left x label with box
  svg.append("rect").attr("x", 706).attr("y", lb + 62).attr("width", 157).attr("height", 41)
    .attr("fill", "#fff").attr("stroke", "#d6d6d6").attr("stroke-width", 1.5);
  svg.append("text").attr("x", 716).attr("y", lb + 97).attr("font-family", SERIF).attr("font-size", 40)
    .attr("textLength", 111).attr("lengthAdjust", "spacingAndGlyphs").attr("fill", "#111").text("Time/s");
  // right y label
  svg.append("text").attr("transform", `translate(${R.left - 55},${rt + R.h / 2}) rotate(-90)`)
    .attr("text-anchor", "middle").attr("font-family", SANS).attr("font-size", 33)
    .attr("textLength", 222).attr("lengthAdjust", "spacingAndGlyphs").attr("fill", "#262626").text("Amplitude (mg)");
  // right x label with box
  svg.append("rect").attr("x", 1983).attr("y", rb + 57).attr("width", 155).attr("height", 41)
    .attr("fill", "#fff").attr("stroke", "#d6d6d6").attr("stroke-width", 1.5);
  svg.append("text").attr("x", 1993).attr("y", rb + 91).attr("font-family", SERIF).attr("font-size", 39)
    .attr("textLength", 109).attr("lengthAdjust", "spacingAndGlyphs").attr("fill", "#111").text("Time/s");

  // zoom box (from the original-signal x scale)
  const sx = leftCharts[r].scale("x");
  const x0 = (L.left - L.ml) + sx.apply(zoomedRange[0]);
  const x1 = (L.left - L.ml) + sx.apply(zoomedRange[1]);
  const y0 = boxTop[r], y1 = boxBottom[r];
  const dashed = {stroke: "#000", "stroke-width": 5, "stroke-dasharray": "17,9", fill: "none"};
  const seg = (a, b, c, d, st) => { const l = svg.append("line").attr("x1", a).attr("y1", b).attr("x2", c).attr("y2", d); Object.entries(st).forEach(([k, v]) => l.attr(k, v)); };
  seg(x0, y0, x0, y1, dashed);
  seg(x1, y0, x1, y1, dashed);
  seg(x0, y0, x0 + 62, y0, dashed);
  seg(x0, y1, x0 + 93, y1, dashed);
  const solid = {stroke: "#000", "stroke-width": 4.5, "stroke-linecap": "butt"};
  seg(x0 + 60, y0, R.left - 3, rt, solid);
  seg(x0 + 91, y1, R.left - 3, rb, solid);
}
</script></body></html>
